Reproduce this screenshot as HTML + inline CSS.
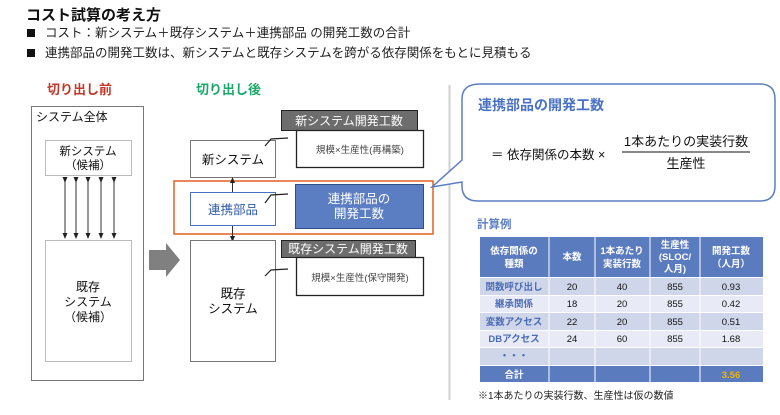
<!DOCTYPE html>
<html><head><meta charset="utf-8"><style>
html,body{margin:0;padding:0;background:#fff;}
svg text{font-family:"Liberation Sans","Noto Sans CJK JP",sans-serif;}
</style></head><body>
<svg width="780" height="410" viewBox="0 0 780 410" xmlns="http://www.w3.org/2000/svg">
<defs><marker id="ah" markerWidth="6" markerHeight="6" refX="3" refY="3" orient="auto"><path d="M0,0.5 L6,3 L0,5.5z" fill="#222"/></marker></defs>
<text x="26" y="20" font-size="15" font-weight="bold" fill="#111">コスト試算の考え方</text>
<rect x="27" y="29" width="8" height="8" fill="#111"/>
<text x="45" y="37" font-size="12.5" fill="#222">コスト：新システム＋既存システム＋連携部品 の開発工数の合計</text>
<rect x="27" y="49" width="8" height="8" fill="#111"/>
<text x="45" y="57" font-size="12.5" fill="#222">連携部品の開発工数は、新システムと既存システムを跨がる依存関係をもとに見積もる</text>
<text x="47" y="94" font-size="13" font-weight="bold" fill="#c0392b">切り出し前</text>
<text x="196" y="94" font-size="13" font-weight="bold" fill="#1aa86a">切り出し後</text>
<!-- left panel -->
<rect x="31.5" y="106.5" width="112" height="274" fill="#fff" stroke="#777"/>
<text x="36" y="121" font-size="12" fill="#111">システム全体</text>
<rect x="45.5" y="140.5" width="86" height="35" fill="#fff" stroke="#bbb"/>
<text x="88" y="155" font-size="11.5" text-anchor="middle" fill="#111">新システム</text>
<text x="88" y="169" font-size="11.5" text-anchor="middle" fill="#111">（候補）</text>
<rect x="45.5" y="240.5" width="86" height="121" fill="#fff" stroke="#bbb"/>
<text x="88" y="291" font-size="12" text-anchor="middle" fill="#111">既存</text>
<text x="88" y="306" font-size="12" text-anchor="middle" fill="#111">システム</text>
<text x="88" y="321" font-size="12" text-anchor="middle" fill="#111">（候補）</text>
<g stroke="#333" stroke-width="1" marker-start="url(#ah)" marker-end="url(#ah)">
<line x1="65" y1="180" x2="65" y2="236"/><line x1="76" y1="180" x2="76" y2="236"/><line x1="88" y1="180" x2="88" y2="236"/><line x1="101" y1="180" x2="101" y2="236"/><line x1="114" y1="180" x2="114" y2="236"/>
</g>
<path d="M149,250 L166,250 L166,243 L180,260 L166,277 L166,270 L149,270z" fill="#808080"/>
<!-- right diagram -->
<rect x="190.5" y="140.5" width="85" height="37" fill="#fff" stroke="#777"/>
<text x="233" y="164" font-size="12.5" text-anchor="middle" fill="#111">新システム</text>
<rect x="174" y="181" width="259" height="53" fill="none" stroke="#e0601e" stroke-width="1.5"/>
<rect x="190.5" y="192.5" width="85" height="33" fill="#fff" stroke="#4a72c4"/>
<text x="233" y="214" font-size="12.5" text-anchor="middle" fill="#2f5aa8">連携部品</text>
<line x1="232.5" y1="192" x2="232.5" y2="180" stroke="#333" marker-end="url(#ah)"/>
<line x1="232.5" y1="226" x2="232.5" y2="239" stroke="#333" marker-end="url(#ah)"/>
<rect x="295.5" y="184.5" width="128" height="44" fill="#5b7ec2" stroke="#2f4f8a"/>
<text x="359" y="203" font-size="12.5" text-anchor="middle" fill="#fff">連携部品の</text>
<text x="359" y="218" font-size="12.5" text-anchor="middle" fill="#fff">開発工数</text>
<rect x="190.5" y="240.5" width="85" height="121" fill="#fff" stroke="#777"/>
<text x="233" y="298" font-size="12.5" text-anchor="middle" fill="#111">既存</text>
<text x="233" y="313" font-size="12.5" text-anchor="middle" fill="#111">システム</text>
<rect x="281.5" y="110.5" width="136" height="20" fill="#6d6d6d" stroke="#222"/>
<text x="349" y="125" font-size="12" text-anchor="middle" fill="#fff">新システム開発工数</text>
<rect x="296.5" y="130.5" width="127" height="37" fill="#fff" stroke="#222" stroke-width="1.3"/>
<text x="360" y="153" font-size="9.5" text-anchor="middle" fill="#444">規模×生産性(再構築)</text>
<rect x="281.5" y="240.5" width="134" height="17" fill="#6d6d6d" stroke="#222"/>
<text x="348" y="253" font-size="12" text-anchor="middle" fill="#fff">既存システム開発工数</text>
<rect x="296.5" y="257.5" width="127" height="38" fill="#fff" stroke="#222" stroke-width="1.3"/>
<text x="360" y="281" font-size="9.5" text-anchor="middle" fill="#444">規模×生産性(保守開発)</text>
<path d="M265,146 L271,139 L288,138" fill="none" stroke="#222" stroke-width="1.2"/>
<path d="M265,203 L271,195 L288,194" fill="none" stroke="#222" stroke-width="1.2"/>
<path d="M265,276 L271,270 L288,269" fill="none" stroke="#222" stroke-width="1.2"/>
<!-- divider -->
<line x1="449.5" y1="85" x2="449.5" y2="400" stroke="#d0d0d0" stroke-width="2"/>
<!-- callout -->
<path d="M480,84 L760,84 Q775,84 775,99 L775,186 Q775,201 760,201 L478,201 Q462,201 462,186 L462,182 L432,187 L462,160 L462,99 Q462,84 480,84z" fill="#fff" stroke="#5b7ec2" stroke-width="1.5"/>
<text x="478" y="110" font-size="14" font-weight="bold" fill="#4a72c4">連携部品の開発工数</text>
<text x="491" y="159" font-size="12.5" fill="#111">＝ 依存関係の本数 ×</text>
<text x="686" y="146" font-size="13" text-anchor="middle" fill="#111">1本あたりの実装行数</text>
<line x1="622" y1="152" x2="750" y2="152" stroke="#111"/>
<text x="686" y="168" font-size="13" text-anchor="middle" fill="#111">生産性</text>
<!-- table -->
<text x="477" y="228" font-size="11.5" font-weight="bold" fill="#5b7ec2">計算例</text>
<rect x="480" y="237" width="283" height="40" fill="#5b7bbf"/>
<rect x="480" y="278" width="283" height="17" fill="#cfd6ea"/>
<rect x="480" y="296" width="283" height="16" fill="#e8ebf5"/>
<rect x="480" y="313" width="283" height="17" fill="#cfd6ea"/>
<rect x="480" y="331" width="283" height="16" fill="#e8ebf5"/>
<rect x="480" y="348" width="283" height="17" fill="#cfd6ea"/>
<rect x="480" y="366" width="283" height="16" fill="#5b7bbf"/>
<g stroke="#fff" stroke-width="1"><line x1="549" y1="237" x2="549" y2="382"/><line x1="595" y1="237" x2="595" y2="382"/><line x1="650" y1="237" x2="650" y2="382"/><line x1="700" y1="237" x2="700" y2="382"/></g>
<g font-size="9.5" font-weight="bold" fill="#fff" text-anchor="middle">
<text x="514" y="254">依存関係の</text><text x="514" y="267">種類</text>
<text x="572" y="260">本数</text>
<text x="622" y="254">1本あたり</text><text x="622" y="267">実装行数</text>
<text x="675" y="248">生産性</text><text x="675" y="260">(SLOC/</text><text x="675" y="272">人月)</text>
<text x="731" y="254">開発工数</text><text x="731" y="267">（人月）</text>
<text x="514" y="378">合計</text>
<text x="731" y="378" fill="#f0b400">3.56</text>
</g>
<g font-size="9.5" font-weight="bold" fill="#4a6cb5" text-anchor="middle">
<text x="514" y="290">関数呼び出し</text><text x="514" y="307">継承関係</text><text x="514" y="325">変数アクセス</text><text x="514" y="342">DBアクセス</text><text x="514" y="359">・・・</text>
</g>
<g font-size="9.5" fill="#111" text-anchor="middle">
<text x="572" y="290">20</text><text x="622" y="290">40</text><text x="675" y="290">855</text><text x="731" y="290">0.93</text>
<text x="572" y="307">18</text><text x="622" y="307">20</text><text x="675" y="307">855</text><text x="731" y="307">0.42</text>
<text x="572" y="325">22</text><text x="622" y="325">20</text><text x="675" y="325">855</text><text x="731" y="325">0.51</text>
<text x="572" y="342">24</text><text x="622" y="342">60</text><text x="675" y="342">855</text><text x="731" y="342">1.68</text>
</g>
<text x="478" y="399" font-size="10" fill="#222">※1本あたりの実装行数、生産性は仮の数値</text>
</svg>
</body></html>
